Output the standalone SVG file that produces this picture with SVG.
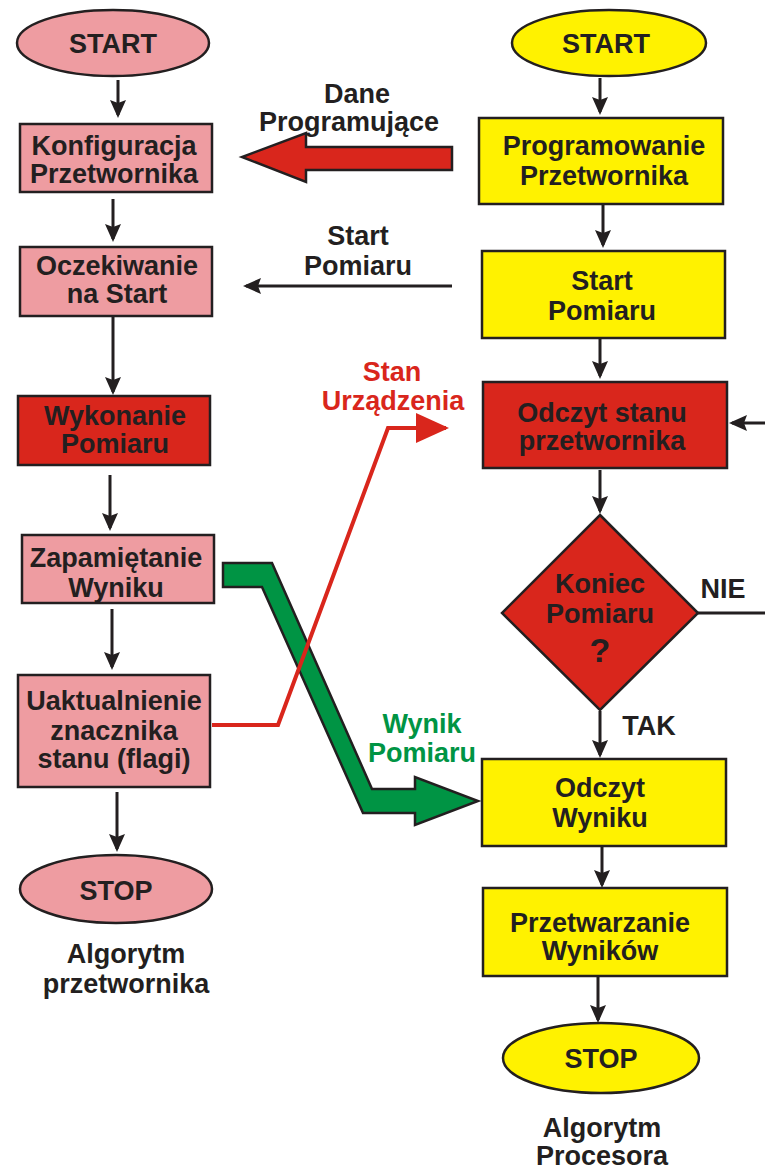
<svg xmlns="http://www.w3.org/2000/svg" width="765" height="1171" viewBox="0 0 765 1171">
  <defs>
    <style>
      .t { font-family: "Liberation Sans", Arial, sans-serif; font-weight: bold; font-size: 27px; fill: #231f20; text-anchor: middle; }
      .q { font-size: 34px; }
      .pink { fill: #ee9ca1; stroke: #231f20; stroke-width: 2.5; }
      .yel { fill: #fff200; stroke: #231f20; stroke-width: 2.5; }
      .red { fill: #d9261c; stroke: #231f20; stroke-width: 2.5; }
      .flow { fill: none; stroke: #231f20; stroke-width: 3; marker-end: url(#ah); }
      .redt { fill: #d9261c; }
      .grnt { fill: #009444; }
    </style>
    <marker id="ah" markerUnits="userSpaceOnUse" markerWidth="20" markerHeight="18" refX="15" refY="8" orient="auto" viewBox="0 0 20 18">
      <path d="M0,0 L18,8 L0,16 L3,8 z" fill="#231f20"/>
    </marker>
    <marker id="ahRed" markerUnits="userSpaceOnUse" markerWidth="36" markerHeight="32" refX="30" refY="15" orient="auto" viewBox="0 0 36 32">
      <path d="M0,0 L33,15 L0,30 z" fill="#d9261c"/>
    </marker>
  </defs>

  <!-- connectors -->
  <g id="connectors">
    <!-- device algorithm -->
    <line class="flow" x1="118" y1="80" x2="118" y2="115"/>
    <line class="flow" x1="113" y1="199" x2="113" y2="239"/>
    <line class="flow" x1="113" y1="316" x2="113" y2="392"/>
    <line class="flow" x1="110" y1="475" x2="110" y2="528"/>
    <line class="flow" x1="112" y1="609" x2="112" y2="667"/>
    <line class="flow" x1="117" y1="792" x2="117" y2="849"/>
    <!-- processor algorithm -->
    <line class="flow" x1="600" y1="78" x2="600" y2="112"/>
    <line class="flow" x1="603" y1="205" x2="603" y2="245"/>
    <line class="flow" x1="600" y1="339" x2="600" y2="376"/>
    <line class="flow" x1="600" y1="470" x2="600" y2="511"/>
    <line class="flow" x1="600" y1="711" x2="600" y2="755"/>
    <line class="flow" x1="602" y1="847" x2="602" y2="885"/>
    <line class="flow" x1="598" y1="977" x2="598" y2="1020"/>
    <!-- NIE loop back to status read -->
    <line x1="698" y1="613" x2="765" y2="613" stroke="#231f20" stroke-width="3"/>
    <line class="flow" x1="765" y1="423" x2="732" y2="423"/>
    <!-- programming data (wide red arrow) -->
    <polygon points="452,147 306,147 306,133 242,157 306,182 306,170 452,170" fill="#d9261c" stroke="#231f20" stroke-width="2.5" stroke-linejoin="miter"/>
    <!-- start measurement signal -->
    <line class="flow" x1="452" y1="286" x2="246" y2="286"/>
    <!-- measurement result (wide green arrow) -->
    <polygon points="223,563 272,563 372,789 415,789 415,777 478,801 415,825 415,813 363,813 262,587 223,587" fill="#009444" stroke="#231f20" stroke-width="2.5" stroke-linejoin="miter"/>
    <!-- device status line -->
    <polyline points="212,725 278,725 388,428 446,428" fill="none" stroke="#d9261c" stroke-width="4" marker-end="url(#ahRed)"/>
  </g>

  <!-- left column: converter algorithm -->
  <g id="dev-start">
    <ellipse class="pink" cx="113" cy="43" rx="96" ry="33"/>
    <text class="t" x="113" y="53">START</text>
  </g>
  <g id="dev-config">
    <rect class="pink" x="20" y="124" width="192" height="68"/>
    <text class="t" x="114" y="155">Konfiguracja</text>
    <text class="t" x="114" y="183">Przetwornika</text>
  </g>
  <g id="dev-wait">
    <rect class="pink" x="20" y="247" width="192" height="69"/>
    <text class="t" x="117" y="275">Oczekiwanie</text>
    <text class="t" x="117" y="303">na Start</text>
  </g>
  <g id="dev-measure">
    <rect class="red" x="18" y="396" width="192" height="69"/>
    <text class="t" x="115" y="425">Wykonanie</text>
    <text class="t" x="115" y="453">Pomiaru</text>
  </g>
  <g id="dev-store">
    <rect class="pink" x="22" y="535" width="192" height="68"/>
    <text class="t" x="116" y="567">Zapamiętanie</text>
    <text class="t" x="116" y="597">Wyniku</text>
  </g>
  <g id="dev-flag">
    <rect class="pink" x="18" y="675" width="192" height="112"/>
    <text class="t" x="114" y="710">Uaktualnienie</text>
    <text class="t" x="114" y="740">znacznika</text>
    <text class="t" x="114" y="768">stanu (flagi)</text>
  </g>
  <g id="dev-stop">
    <ellipse class="pink" cx="116" cy="889" rx="96" ry="34"/>
    <text class="t" x="116" y="900">STOP</text>
  </g>
  <g id="dev-caption">
    <text class="t" x="126" y="963">Algorytm</text>
    <text class="t" x="126" y="993">przetwornika</text>
  </g>

  <!-- right column: processor algorithm -->
  <g id="cpu-start">
    <ellipse class="yel" cx="609" cy="43" rx="97" ry="33"/>
    <text class="t" x="606" y="53">START</text>
  </g>
  <g id="cpu-program">
    <rect class="yel" x="479" y="118" width="244" height="86"/>
    <text class="t" x="604" y="155">Programowanie</text>
    <text class="t" x="604" y="185">Przetwornika</text>
  </g>
  <g id="cpu-start-meas">
    <rect class="yel" x="482" y="251" width="243" height="87"/>
    <text class="t" x="602" y="290">Start</text>
    <text class="t" x="602" y="320">Pomiaru</text>
  </g>
  <g id="cpu-read-status">
    <rect class="red" x="483" y="382" width="244" height="86"/>
    <text class="t" x="602" y="422">Odczyt stanu</text>
    <text class="t" x="602" y="450">przetwornika</text>
  </g>
  <g id="cpu-done">
    <polygon class="red" points="600,515 698,613 600,710 502,613"/>
    <text class="t" x="600" y="593">Koniec</text>
    <text class="t" x="600" y="623">Pomiaru</text>
    <text class="t q" x="600" y="662">?</text>
  </g>
  <g id="cpu-read-result">
    <rect class="yel" x="482" y="759" width="244" height="87"/>
    <text class="t" x="600" y="797">Odczyt</text>
    <text class="t" x="600" y="827">Wyniku</text>
  </g>
  <g id="cpu-process">
    <rect class="yel" x="483" y="888" width="244" height="88"/>
    <text class="t" x="600" y="932">Przetwarzanie</text>
    <text class="t" x="600" y="960">Wyników</text>
  </g>
  <g id="cpu-stop">
    <ellipse class="yel" cx="601" cy="1058" rx="98" ry="35"/>
    <text class="t" x="601" y="1068">STOP</text>
  </g>
  <g id="cpu-caption">
    <text class="t" x="602" y="1137">Algorytm</text>
    <text class="t" x="602" y="1165">Procesora</text>
  </g>

  <!-- connector labels -->
  <g id="labels">
    <text class="t" x="357" y="103">Dane</text>
    <text class="t" x="349" y="131">Programujące</text>
    <text class="t" x="358" y="245">Start</text>
    <text class="t" x="358" y="275">Pomiaru</text>
    <text class="t redt" x="392" y="381">Stan</text>
    <text class="t redt" x="393" y="410">Urządzenia</text>
    <text class="t grnt" x="422" y="733">Wynik</text>
    <text class="t grnt" x="422" y="762">Pomiaru</text>
    <text class="t" x="723" y="598">NIE</text>
    <text class="t" x="649" y="735">TAK</text>
  </g>
</svg>
